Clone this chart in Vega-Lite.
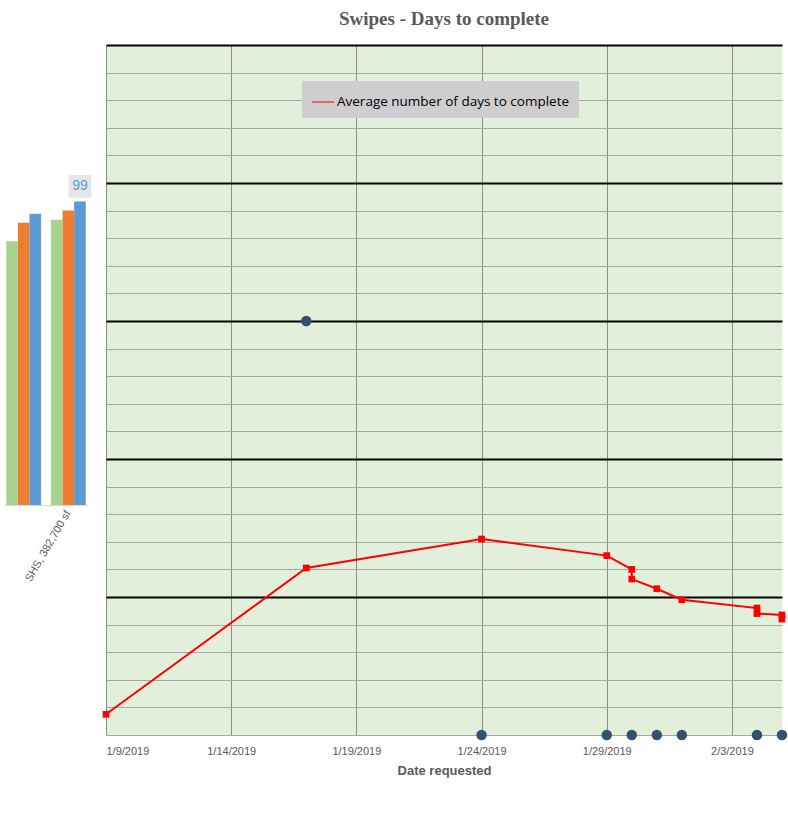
{
  "$schema": "https://vega.github.io/schema/vega-lite/v6.json",
  "background": "white",
  "padding": {"left": 4, "right": 6, "top": 10, "bottom": 5},
  "spacing": 10,
  "config": {"view": {"stroke": null}, "font": "Liberation Sans"},
  "resolve": {"scale": {"color": "independent"}, "legend": {"color": "independent"}},
  "datasets": {
    "sites": [
      {"site": "4 sf", "series": "s1", "value": 86},
      {"site": "4 sf", "series": "s2", "value": 92},
      {"site": "4 sf", "series": "s3", "value": 95},
      {"site": "SHS, 382,700 sf", "series": "s1", "value": 93},
      {"site": "SHS, 382,700 sf", "series": "s2", "value": 96},
      {"site": "SHS, 382,700 sf", "series": "s3", "value": 99}
    ],
    "avgDays": [
      {"seq": 1, "date": "2019-01-09", "days": 1.5, "series": "Average number of days to complete"},
      {"seq": 2, "date": "2019-01-17", "days": 12.1, "series": "Average number of days to complete"},
      {"seq": 3, "date": "2019-01-24", "days": 14.2, "series": "Average number of days to complete"},
      {"seq": 4, "date": "2019-01-29", "days": 13.0, "series": "Average number of days to complete"},
      {"seq": 5, "date": "2019-01-30", "days": 12.0, "series": "Average number of days to complete"},
      {"seq": 6, "date": "2019-01-30", "days": 11.3, "series": "Average number of days to complete"},
      {"seq": 7, "date": "2019-01-31", "days": 10.6, "series": "Average number of days to complete"},
      {"seq": 8, "date": "2019-02-01", "days": 9.8, "series": "Average number of days to complete"},
      {"seq": 9, "date": "2019-02-04", "days": 9.2, "series": "Average number of days to complete"},
      {"seq": 10, "date": "2019-02-04", "days": 8.8, "series": "Average number of days to complete"},
      {"seq": 11, "date": "2019-02-05", "days": 8.7, "series": "Average number of days to complete"},
      {"seq": 12, "date": "2019-02-05", "days": 8.4, "series": "Average number of days to complete"}
    ],
    "requests": [
      {"date": "2019-01-17", "days": 30},
      {"date": "2019-01-24", "days": 0},
      {"date": "2019-01-29", "days": 0},
      {"date": "2019-01-30", "days": 0},
      {"date": "2019-01-31", "days": 0},
      {"date": "2019-02-01", "days": 0},
      {"date": "2019-02-04", "days": 0},
      {"date": "2019-02-05", "days": 0}
    ]
  },
  "hconcat": [
    {
      "width": 84,
      "height": 460,
      "data": {"name": "sites"},
      "encoding": {
        "x": {
          "field": "site", "type": "nominal", "sort": null,
          "scale": {"paddingInner": 0.22, "paddingOuter": 0.05},
          "axis": {
            "title": null, "ticks": false, "labelAngle": -60,
            "labelColor": "#595959", "labelFontSize": 11, "labelPadding": 6,
            "domainColor": "#d9d9d9",
            "labelExpr": "datum.value === 'SHS, 382,700 sf' ? datum.value : ''"
          }
        },
        "xOffset": {"field": "series", "sort": null, "scale": {"paddingInner": 0}},
        "y": {"field": "value", "type": "quantitative", "scale": {"domain": [0, 150]}, "axis": null}
      },
      "layer": [
        {
          "mark": {"type": "bar"},
          "encoding": {
            "color": {
              "field": "series", "type": "nominal", "legend": null,
              "scale": {"domain": ["s1", "s2", "s3"], "range": ["#a9d18e", "#ed7d31", "#5b9bd5"]}
            }
          }
        },
        {
          "transform": [{"filter": "datum.site === 'SHS, 382,700 sf' && datum.series === 's3'"}],
          "mark": {"type": "square", "yOffset": -15, "size": 520, "color": "#e7e6e6", "opacity": 1}
        },
        {
          "transform": [{"filter": "datum.site === 'SHS, 382,700 sf' && datum.series === 's3'"}],
          "mark": {"type": "text", "dy": -15, "color": "#5b9bd5", "fontSize": 14},
          "encoding": {"text": {"field": "value", "type": "quantitative"}}
        }
      ]
    },
    {
      "width": 676,
      "height": 690,
      "view": {"fill": "#e2efda"},
      "title": {
        "text": "Swipes - Days to complete",
        "font": "Liberation Serif", "fontSize": 19, "fontWeight": "bold",
        "color": "#595959", "offset": 16
      },
      "encoding": {
        "x": {
          "field": "date", "type": "temporal",
          "scale": {
            "type": "utc",
            "domain": [
              {"year": 2019, "month": 1, "date": 9, "utc": true},
              {"year": 2019, "month": 2, "date": 5, "utc": true}
            ]
          },
          "axis": {
            "title": "Date requested", "titleFontWeight": "bold", "titleFontSize": 13,
            "titleColor": "#595959", "titlePadding": 8,
            "values": [
              {"year": 2019, "month": 1, "date": 9, "utc": true},
              {"year": 2019, "month": 1, "date": 14, "utc": true},
              {"year": 2019, "month": 1, "date": 19, "utc": true},
              {"year": 2019, "month": 1, "date": 24, "utc": true},
              {"year": 2019, "month": 1, "date": 29, "utc": true},
              {"year": 2019, "month": 2, "date": 3, "utc": true}
            ],
            "labelExpr": "utcFormat(datum.value, '%-m/%-d/%Y')",
            "labelAngle": 0, "labelFontSize": 11, "labelColor": "#595959", "labelPadding": 10,
            "domain": false, "ticks": false,
            "grid": true, "gridColor": "#8c8c8c", "gridWidth": 1
          }
        },
        "y": {
          "field": "days", "type": "quantitative",
          "scale": {"domain": [0, 50], "nice": false},
          "axis": {
            "title": null, "labels": false, "ticks": false, "domain": false,
            "values": [0, 2, 4, 6, 8, 10, 12, 14, 16, 18, 20, 22, 24, 26, 28, 30, 32, 34, 36, 38, 40, 42, 44, 46, 48, 50],
            "grid": true,
            "gridColor": {"condition": {"test": "datum.value % 10 === 0 && datum.value > 0", "value": "#000000"}, "value": "#a6a6a6"},
            "gridWidth": {"condition": {"test": "datum.value % 10 === 0 && datum.value > 0", "value": 1.8}, "value": 1}
          }
        }
      },
      "layer": [
        {
          "data": {"name": "avgDays"},
          "mark": {"type": "line", "strokeWidth": 2, "color": "#ff0000"},
          "encoding": {
            "order": {"field": "seq", "type": "quantitative"}
          }
        },
        {
          "data": {"name": "avgDays"},
          "mark": {"type": "square", "size": 45, "opacity": 1},
          "encoding": {
            "color": {
              "field": "series", "type": "nominal",
              "scale": {"range": ["#ff0000"]},
              "legend": {
                "title": null, "orient": "none", "legendX": 196, "legendY": 36,
                "fillColor": "#cfcdcf", "padding": 9,
                "symbolType": "stroke", "symbolStrokeWidth": 1, "symbolSize": 500,
                "symbolStrokeColor": "#ff0000",
                "labelFont": "Open Sans", "labelFontSize": 13.5, "labelColor": "#000000",
                "labelLimit": 400, "labelOffset": 2
              }
            }
          }
        },
        {
          "data": {"name": "requests"},
          "mark": {"type": "circle", "size": 110, "color": "#34506f", "opacity": 1}
        }
      ]
    }
  ]
}
